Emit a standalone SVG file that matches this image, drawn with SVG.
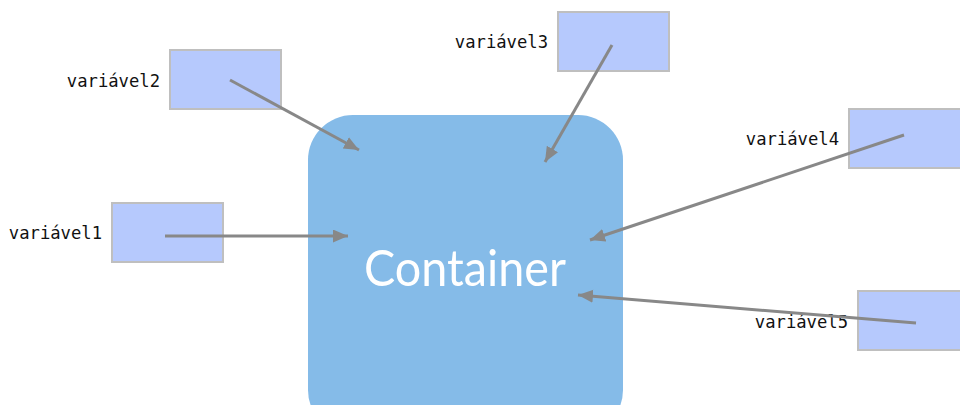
<svg xmlns="http://www.w3.org/2000/svg" width="960" height="405" viewBox="0 0 960 405">
<style>
.box{fill:#b6c9fd;stroke:#bfbfbf;stroke-width:2}
.lbl{font-family:"DejaVu Sans Mono",monospace;font-size:17.2px;fill:#111;text-anchor:end}
.con{stroke:#888;stroke-width:3;fill:none;marker-end:url(#ah)}
</style>
<defs>
<marker id="ah" markerUnits="userSpaceOnUse" markerWidth="16" markerHeight="14" refX="15" refY="6.5" orient="auto" viewBox="0 0 16 14">
<path d="M0,0 L15,6.5 L0,13 z" fill="#888"/>
</marker>
</defs>
<rect width="960" height="405" fill="#fff"/>
<g id="container">
<rect x="308" y="115" width="315" height="320" rx="45" ry="45" fill="#85bbe8"/>
<text x="364" y="286" font-family="Lato, 'Open Sans', sans-serif" font-size="51" fill="#fff" textLength="202" lengthAdjust="spacingAndGlyphs">Container</text>
</g>
<g id="var1">
<rect class="box" x="112" y="203" width="111" height="59"/>
<text class="lbl" x="102" y="239">variável1</text>
</g>
<g id="var2">
<rect class="box" x="170" y="50" width="111" height="59"/>
<text class="lbl" x="160" y="87">variável2</text>
</g>
<g id="var3">
<rect class="box" x="558" y="12" width="111" height="59"/>
<text class="lbl" x="548" y="48">variável3</text>
</g>
<g id="var4">
<rect class="box" x="849" y="109" width="112" height="59"/>
<text class="lbl" x="839" y="145">variável4</text>
</g>
<g id="var5">
<rect class="box" x="858" y="291" width="103" height="59"/>
<text class="lbl" x="848" y="328">variável5</text>
</g>
<g id="connectors">
<line class="con" x1="165" y1="236" x2="348" y2="236"/>
<line class="con" x1="230" y1="80" x2="359" y2="150"/>
<line class="con" x1="612" y1="45" x2="545" y2="162"/>
<line class="con" x1="904" y1="135" x2="590" y2="240"/>
<line class="con" x1="916" y1="323" x2="578" y2="295"/>
</g>
</svg>
